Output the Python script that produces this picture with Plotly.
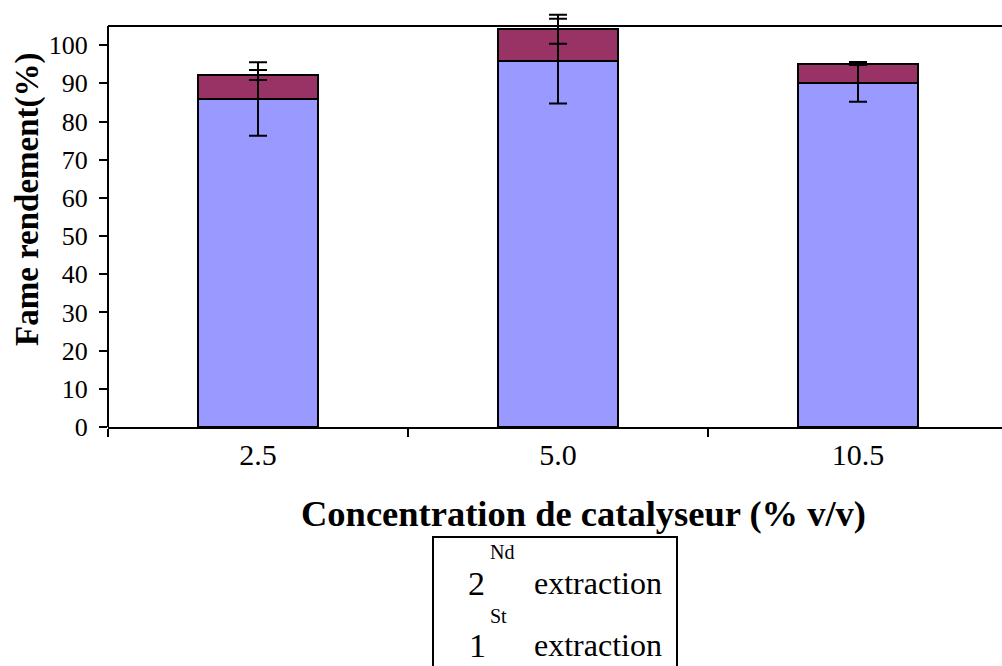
import plotly.graph_objects as go

# Catalyst concentration (% v/v) and FAME yield per extraction step
categories = ["2.5", "5.0", "10.5"]
first_extraction = [85.9, 95.8, 90.0]
second_extraction = [6.3, 8.4, 5.2]
first_err = [9.6, 11.1, 4.8]
second_err = [1.3, 3.8, 0.4]

W, H = 1002, 666
Y_FRAME = 105    # top frame of the plot
Y_RANGE = 110    # headroom so the error bars can rise above the frame
PX_PER_UNIT = 3.815
Y0_PX = 427      # pixel row of y = 0
L, R = 108, 0
T = round(Y0_PX - PX_PER_UNIT * Y_RANGE)
B = H - Y0_PX

SERIF = "Liberation Serif, Times New Roman, serif"
BLUE = "#9999FF"
PLUM = "#993366"

stack_top = [a + b for a, b in zip(first_extraction, second_extraction)]

fig = go.Figure()
fig.add_trace(go.Bar(
    x=categories, y=first_extraction, name="1 St extraction",
    marker=dict(color=BLUE, line=dict(color="black", width=2)),
    width=0.4,
))
fig.add_trace(go.Bar(
    x=categories, y=second_extraction, name="2 Nd extraction",
    marker=dict(color=PLUM, line=dict(color="black", width=2)),
    width=0.4,
))
# error bars drawn above both bar segments
for yvals, err in ((first_extraction, first_err), (stack_top, second_err)):
    fig.add_trace(go.Scatter(
        x=categories, y=yvals, mode="markers",
        marker=dict(size=1, opacity=0),
        error_y=dict(type="data", array=err, visible=True,
                     color="black", thickness=2, width=9),
        hoverinfo="skip",
    ))


def px_x(px):
    return (px - L) / (W - L - R)


def px_y(py):
    return (H - B - py) / (H - T - B)


annotations = [
    dict(text="<b>Fame rendement(%)</b>", x=px_x(27), y=px_y(199),
         textangle=-90, font=dict(size=33)),
    dict(text="<b>Concentration de catalyseur (% v/v)</b>", x=px_x(583), y=px_y(513),
         font=dict(size=36.5)),
    dict(text="Nd", x=px_x(488), y=px_y(552), font=dict(size=20), xanchor="left"),
    dict(text="2", x=px_x(476), y=px_y(583), font=dict(size=34)),
    dict(text="extraction", x=px_x(598), y=px_y(583), font=dict(size=32)),
    dict(text="St", x=px_x(488), y=px_y(616), font=dict(size=20), xanchor="left"),
    dict(text="1", x=px_x(477), y=px_y(645), font=dict(size=34)),
    dict(text="extraction", x=px_x(598), y=px_y(645), font=dict(size=32)),
]
for a in annotations:
    a.setdefault("xanchor", "center")
    a.update(xref="paper", yref="paper", showarrow=False, yanchor="middle")
    a["font"].update(family=SERIF, color="black")

shapes = [
    # top frame line
    dict(type="line", xref="paper", yref="y", x0=0, x1=1, y0=Y_FRAME, y1=Y_FRAME,
         line=dict(color="black", width=2), layer="below"),
    # mask above the frame
    dict(type="rect", xref="paper", yref="y", x0=0, x1=1, y0=Y_FRAME + 0.3, y1=Y_RANGE,
         line=dict(width=0), fillcolor="white", layer="below"),
    # legend box
    dict(type="rect", xref="paper", yref="paper",
         x0=px_x(433), x1=px_x(677), y0=px_y(537), y1=px_y(680),
         line=dict(color="black", width=2), fillcolor="rgba(0,0,0,0)"),
]

fig.update_layout(
    width=W, height=H,
    margin=dict(l=L, r=R, t=T, b=B, pad=0),
    barmode="stack",
    showlegend=False,
    plot_bgcolor="white", paper_bgcolor="white",
    font=dict(family=SERIF, color="black"),
    annotations=annotations,
    shapes=shapes,
    xaxis=dict(
        type="category", range=[-0.5, 2.48],
        showline=True, linecolor="black", linewidth=2,
        ticks="outside", tickson="boundaries", ticklen=8, tickwidth=1.5,
        tickcolor="black", showgrid=False,
        tickfont=dict(size=30, family=SERIF, color="black"),
    ),
    yaxis=dict(
        range=[0, Y_RANGE], tickvals=list(range(0, 101, 10)),
        showline=False,
        ticks="outside", ticklen=8, tickwidth=1.5, tickcolor="black",
        showgrid=False, zeroline=False, ticklabelstandoff=6,
        tickfont=dict(size=26, family=SERIF, color="black"),
    ),
)
# left axis line only up to the frame
fig.add_shape(type="line", xref="paper", yref="y", x0=0, x1=0, y0=0, y1=Y_FRAME,
              line=dict(color="black", width=2))

fig.write_html("out.html")
